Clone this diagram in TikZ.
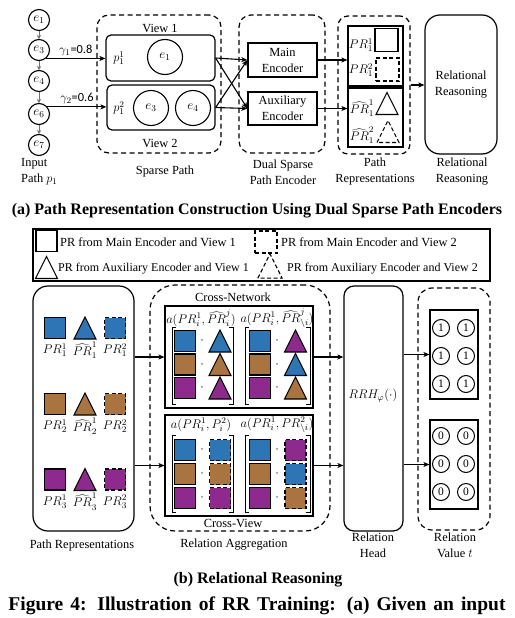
\RequirePackage{fix-cm}
\documentclass[tikz,border=0pt]{standalone}
\usepackage{fontspec}
\setmainfont{Liberation Serif}
\newfontfamily\numfont{Carlito}
\usetikzlibrary{arrows.meta,calc}
\definecolor{rrblue}{HTML}{2E75B6}
\definecolor{rrbrown}{HTML}{A9743F}
\definecolor{rrplum}{HTML}{8E2A8E}
\tikzset{
  ent/.style={circle, draw, line width=1.1pt, minimum size=21pt, inner sep=0pt, font=\fontsize{13}{14}\selectfont},
  bigent/.style={ent, minimum size=35pt},
  valc/.style={circle, draw, line width=1pt, minimum size=17pt, inner sep=0pt, font=\fontsize{11.5}{12}\selectfont},
  viewb/.style={draw, line width=1.2pt, rounded corners=5pt, inner sep=0pt},
  grp/.style={draw, line width=1.2pt, dash pattern=on 5pt off 3.5pt, rounded corners=12pt, inner sep=0pt},
  encb/.style={draw, line width=1.2pt, align=center, inner sep=0pt},
  solb/.style={draw, line width=1.2pt, rounded corners=14pt, inner sep=0pt, align=center},
  plainb/.style={draw, line width=1.1pt, inner sep=0pt},
  sq/.style={draw, line width=1.1pt, minimum size=21pt, inner sep=0pt},
  dline/.style={dash pattern=on 4pt off 2.5pt},
  dsq/.style={sq, dline},
  flow/.style={-{Stealth[length=6pt,width=5pt,inset=1.5pt]}, line width=1.1pt},
  chain/.style={-{Stealth[length=4pt,width=4.5pt]}, line width=1pt, draw=black!55},
  brk/.style={line width=0.9pt},
  lab/.style={align=center, inner sep=0pt},
  mlab/.style={inner sep=0pt, font=\fontsize{12.5}{15}\selectfont},
  capt/.style={inner sep=0pt, font=\fontsize{16}{18}\selectfont\bfseries},
  capf/.style={inner sep=0pt, font=\fontsize{19.5}{21}\selectfont\bfseries},
  pics/tri/.style={code={\draw[line width=1.1pt, line join=miter, pic actions] (-11,11) -- (0,-11) -- (11,11) -- cycle;}},
}

\begin{document}
\begin{tikzpicture}[x=1pt, y=-1pt, font=\fontsize{12.4}{16}\selectfont]
  \useasboundingbox (0,0) rectangle (514,618);

  % (a) input path and sparse views
  \node[ent] (e1) at (39,20) {$e_1$};
  \node[ent] (e3) at (39,50) {$e_3$};
  \node[ent] (e4) at (39,81) {$e_4$};
  \node[ent] (e6) at (39,114) {$e_6$};
  \node[ent] (e7) at (39,145) {$e_7$};
  \foreach \a/\b in {e1/e3,e3/e4,e4/e6,e6/e7}
    \draw[chain] (\a) -- (\b);
  \node[lab, anchor=west, align=left] (inp) at (21,172) {Input\\Path $p_1$};

  \node[grp, minimum width=124pt, minimum height=138pt] (sp) at (159,84) {};
  \node[viewb, minimum width=109pt, minimum height=46pt] (v1) at (160.5,58) {};
  \node[viewb, minimum width=108pt, minimum height=45pt] (v2) at (161,107.5) {};
  \node[lab] (v1t) at (160,28) {View 1};
  \node[lab] (v2t) at (160,143) {View 2};
  \node[mlab] (p11) at (119,58) {$p_1^1$};
  \node[bigent] (w1) at (165,57) {$e_1$};
  \node[mlab] (p12) at (119,108) {$p_1^2$};
  \node[bigent] (w3) at (151,108) {$e_3$};
  \node[bigent] (w4) at (193,108) {$e_4$};
  \node[lab] (spt) at (165,172) {Sparse Path};

  \draw[flow] (e3.-50) -- node[above, inner sep=2pt] {$\gamma_1${\numfont =0.8}} (e3.-50 -| v1.west);
  \draw[flow] (e6.40) -- node[above, inner sep=2pt] {$\gamma_2${\numfont =0.6}} (e6.40 -| v2.west);

  % encoders
  \node[grp, minimum width=86pt, minimum height=138pt] (dse) at (282,84) {};
  \node[encb, minimum width=69pt, minimum height=34pt] (main) at (282.5,60) {Main\\Encoder};
  \node[encb, minimum width=69pt, minimum height=33pt] (aux) at (282.5,108.5) {Auxiliary\\Encoder};
  \node[lab] (dset) at (283,172) {Dual Sparse\\Path Encoder};
  \draw[flow] (v1.east) -- (main.west);
  \draw[flow] (v2.east) -- (aux.west);
  \draw[flow] (v1.east) -- (aux.west);
  \draw[flow] (v2.east) -- (main.west);

  % path representations
  \node[grp, rounded corners=10pt, minimum width=72pt, minimum height=138pt] (prg) at (374,85) {};
  \node[plainb, minimum width=55pt, minimum height=60pt] (prup) at (375.5,56) {};
  \node[plainb, minimum width=55pt, minimum height=59pt] (prlo) at (375.5,117.5) {};
  \node[sq, minimum size=23pt] (s11) at (386.5,40) {};
  \node[dsq, minimum size=23pt] (s12) at (387.5,69.5) {};
  \pic at (387,103.5) {tri};
  \pic[dline] at (388,131.5) {tri};
  \node[mlab] (l11) at (361,45) {$PR_1^1$};
  \node[mlab] (l12) at (361,70) {$PR_1^2$};
  \node[mlab] (l13) at (362,108) {$\widehat{PR}_1^1$};
  \node[mlab] (l14) at (362,135) {$\widehat{PR}_1^2$};
  \draw[flow] (main.east) -- (main.east -| prup.west);
  \draw[flow] (aux.east) -- (aux.east -| prlo.west);
  \node[lab] (prt) at (375,172) {Path\\Representations};

  \node[solb, minimum width=72pt, minimum height=139pt, rounded corners=15pt] (rr) at (461,84.5) {Relational\\Reasoning};
  \draw[flow] (prg.east) -- (prg.east -| rr.west);
  \node[lab] (rrt) at (462,172) {Relational\\Reasoning};

  \node[capt] (capa) at (257,211) {(a) Path Representation Construction Using Dual Sparse Path Encoders};

  % legend
  \node[plainb, line width=1.2pt, minimum width=457pt, minimum height=52pt] (lg) at (261.5,255) {};
  \node[sq] (lsq) at (46.5,241) {};
  \node[lab, anchor=west] (lt1) at (60,242) {PR from Main Encoder and View 1};
  \node[dsq, minimum size=22pt] (ldsq) at (266,242) {};
  \node[lab, anchor=west] (lt2) at (281,242) {PR from Main Encoder and View 2};
  \pic at (46.5,267.5) {tri};
  \node[lab, anchor=west, font=\fontsize{12}{14}\selectfont] (lt3) at (58,269) {PR from Auxiliary Encoder and View 1};
  \pic[dline, scale=1.1] at (270,266) {tri};
  \node[lab, anchor=west, font=\fontsize{12}{14}\selectfont] (lt4) at (287,269) {PR from Auxiliary Encoder and View 2};

  % (b) path representations
  \node[solb, minimum width=101pt, minimum height=245pt, rounded corners=15pt] (prb) at (83.5,408.5) {};
  \foreach \c/\y [count=\i] in {rrblue/328, rrbrown/404, rrplum/479.5} {
    \node[sq, fill=\c] (pa\i) at (55,\y) {};
    \pic[fill=\c] at (85,\y) {tri};
    \node[dsq, fill=\c] (pc\i) at (115,\y) {};
    \node[mlab] (la\i) at (55,\y+22) {$PR_\i^1$};
    \node[mlab] (lb\i) at (85,\y+22) {$\widehat{PR}_\i^1$};
    \node[mlab] (lc\i) at (115,\y+22) {$PR_\i^2$};
  }
  \node[lab] (prbt) at (82,546) {Path Representations};

  % relation aggregation
  \node[grp, rounded corners=25pt, minimum width=180pt, minimum height=246pt] (ra) at (240,408) {};
  \node[lab] (cnt) at (233,297) {Cross-Network};
  \node[plainb, minimum width=148pt, minimum height=102pt] (cn) at (239,357) {};
  \node[plainb, minimum width=148pt, minimum height=101pt] (cv) at (239,465.5) {};
  \node[lab] (cvt) at (233,523) {Cross-View};
  \node[mlab] (cna) at (201,318) {$a(PR_i^1,\widehat{PR}_i^j)$};
  \node[mlab] (cnb) at (277,318) {$a(PR_i^1,\widehat{PR}_{\setminus i}^j)$};
  \node[mlab] (cva) at (201,425) {$a(PR_i^1,P_i^2)$};
  \node[mlab] (cvb) at (277,425) {$a(PR_i^1,PR_{\setminus i}^2)$};
  \foreach \l/\r/\t in {172/233/327,245/310/327,172/233/435,245/310/435} {
    \draw[brk] (\l+4,\t) -| (\l,\t+77) -- (\l+4,\t+77);
    \draw[brk] (\r-4,\t) -| (\r,\t+77) -- (\r-4,\t+77);
  }
  \foreach \c/\d/\y [count=\i] in {rrblue/rrplum/341, rrbrown/rrblue/364.5, rrplum/rrbrown/388} {
    \node[sq, fill=\c] (na\i) at (185,\y) {};
    \node (nd\i) at (202,\y) {$\cdot$};
    \pic[fill=\c] at (220,\y) {tri};
    \node[sq, fill=\c] (nb\i) at (260,\y) {};
    \node (ne\i) at (277,\y) {$\cdot$};
    \pic[fill=\d] at (295.5,\y) {tri};
  }
  \foreach \c/\d/\y [count=\i] in {rrblue/rrplum/450, rrbrown/rrblue/474, rrplum/rrbrown/498} {
    \node[sq, fill=\c] (va\i) at (185,\y) {};
    \node (vd\i) at (202,\y) {$\cdot$};
    \node[dsq, fill=\c] (vb\i) at (220,\y) {};
    \node[sq, fill=\c] (vc\i) at (260,\y) {};
    \node (vx\i) at (277,\y) {$\cdot$};
    \node[dsq, fill=\d] (vf\i) at (295.5,\y) {};
  }
  \node[lab] (rat) at (234,545) {Relation Aggregation};
  \draw[flow] (prb.east |- cn.west) -- (cn.west);
  \draw[flow] (prb.east |- cv.west) -- (cv.west);

  % relation head and values
  \node[solb, rounded corners=10pt, minimum width=59pt, minimum height=245pt] (rh) at (373.5,408.5) {};
  \node[mlab] (rht) at (373,396) {$RRH_\varphi(\cdot)$};
  \draw[flow] (cn.east) -- (cn.east -| rh.west);
  \draw[flow] (cv.east) -- (cv.east -| rh.west);
  \node[lab] (rhl) at (373,545) {Relation\\Head};

  \node[grp, rounded corners=14pt, minimum width=72pt, minimum height=242pt] (rv) at (454,409) {};
  \node[plainb, minimum width=48pt, minimum height=89pt] (ones) at (454,354.5) {};
  \node[plainb, minimum width=48pt, minimum height=89pt] (zeros) at (454,464.5) {};
  \foreach \y [count=\i] in {328,356,384} {
    \node[valc] (oa\i) at (441,\y) {1};
    \node[valc] (ob\i) at (466,\y) {1};
  }
  \foreach \y [count=\i] in {436,464,492} {
    \node[valc] (za\i) at (441,\y) {0};
    \node[valc] (zb\i) at (466,\y) {0};
  }
  \draw[flow] (rh.east |- ones.west) -- (ones.west);
  \draw[flow] (rh.east |- zeros.west) -- (zeros.west);
  \node[lab] (rvl) at (455,545) {Relation\\Value $t$};

  \node[capt] (capb) at (258,580) {(b) Relational Reasoning};
  \node[capf] (capfig) at (257,606) {\makebox[497pt][s]{Figure 4: Illustration of RR Training: (a) Given an input}};
\end{tikzpicture}
\end{document}
